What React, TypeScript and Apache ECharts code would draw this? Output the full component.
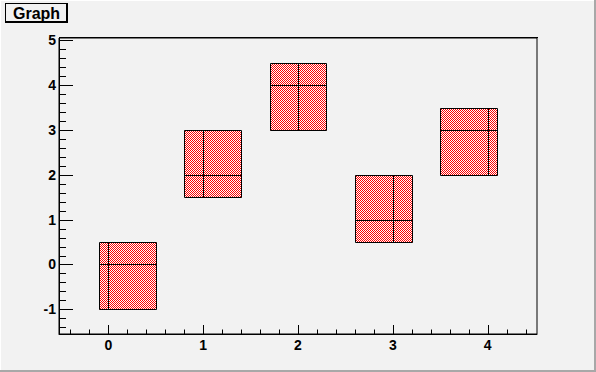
import React, { useEffect, useRef } from "react";
import * as echarts from "echarts";

// Graph points (TGraphAsymmErrors style)
const pointX = [0, 1, 2, 3, 4];
const pointY = [0, 2, 4, 1, 3];
const errXLow = [0.1, 0.2, 0.3, 0.4, 0.5];
const errXHigh = [0.5, 0.4, 0.3, 0.2, 0.1];
const errYLow = [1, 0.5, 1, 0.5, 1];
const errYHigh = [0.5, 1, 0.5, 1, 0.5];

// Axis ranges and ticks
const xRange = [-0.52, 4.52];
const yRange = [-1.55, 5.05];
const xMajorTicks = [0, 1, 2, 3, 4];
const yMajorTicks = [-1, 0, 1, 2, 3, 4, 5];
const minorStep = 0.2;

const titleText = "Graph";

function minorTicks(range: number[], majors: number[]): number[] {
  const out: number[] = [];
  const start = Math.ceil(range[0] / minorStep - 1e-9);
  const end = Math.floor(range[1] / minorStep + 1e-9);
  for (let k = start; k <= end; k++) {
    const v = Math.round(k * minorStep * 1000) / 1000;
    if (!majors.some((m) => Math.abs(m - v) < 1e-6)) out.push(v);
  }
  return out;
}

const FONT = "Liberation Sans, Arial, Helvetica, sans-serif";
const BG = "#f2f2f2";

export default function App() {
  const ref = useRef<HTMLDivElement>(null);
  useEffect(() => {
    if (!ref.current) return;
    const chart = echarts.init(ref.current, undefined, { renderer: "svg" });

    const cv = document.createElement("canvas");
    cv.width = 2;
    cv.height = 2;
    const ctx = cv.getContext("2d")!;
    ctx.fillStyle = "#ffffff";
    ctx.fillRect(0, 0, 2, 2);
    ctx.fillStyle = "#ff0000";
    ctx.fillRect(0, 0, 1, 1);
    ctx.fillRect(1, 1, 1, 1);
    const pattern: any = { image: cv, repeat: "repeat", imageWidth: 2, imageHeight: 2 };

    const data = pointX.map((x, i) => [x, pointY[i], errXLow[i], errXHigh[i], errYLow[i], errYHigh[i]]);

    const px = (v: number) => Math.round(v) + 0.5;

    const xMinor = minorTicks(xRange, xMajorTicks);
    const yMinor = minorTicks(yRange, yMajorTicks);

    // tick items: [xValue, yValue, length, kind(0 = x axis, 1 = y axis)]
    const tickData: number[][] = [
      ...xMajorTicks.map((v) => [v, yRange[0], 9, 0]),
      ...xMinor.map((v) => [v, yRange[0], 4.5, 0]),
      ...yMajorTicks.map((v) => [xRange[0], v, 14, 1]),
      ...yMinor.map((v) => [xRange[0], v, 7, 1]),
    ];

    chart.setOption({
      animation: false,
      backgroundColor: BG,
      grid: {
        left: 59,
        right: 59,
        top: 38,
        bottom: 38,
        show: true,
        borderColor: "#000",
        borderWidth: 1,
        backgroundColor: "transparent",
      },
      xAxis: {
        type: "value",
        min: xRange[0],
        max: xRange[1],
        position: "bottom",
        splitLine: { show: false },
        axisLine: { show: true, onZero: false, lineStyle: { color: "#000", width: 1 } },
        axisTick: { show: false },
        axisLabel: {
          show: true,
          customValues: xMajorTicks,
          margin: 4,
          color: "#000",
          fontFamily: FONT,
          fontWeight: "bold",
          fontSize: 14,
        },
      },
      yAxis: {
        type: "value",
        min: yRange[0],
        max: yRange[1],
        position: "left",
        splitLine: { show: false },
        axisLine: { show: true, onZero: false, lineStyle: { color: "#000", width: 1 } },
        axisTick: { show: false },
        axisLabel: {
          show: true,
          customValues: yMajorTicks,
          margin: 3,
          color: "#000",
          fontFamily: FONT,
          fontWeight: "bold",
          fontSize: 14,
        },
      },
      series: [
        {
          type: "custom",
          data: tickData,
          clip: false,
          silent: true,
          renderItem: (params: any, api: any) => {
            const p = api.coord([api.value(0), api.value(1)]);
            const len = api.value(2);
            const kind = api.value(3);
            if (kind === 0) {
              const x = px(p[0]);
              const y = Math.round(p[1]);
              return {
                type: "line",
                shape: { x1: x, y1: y, x2: x, y2: y - len },
                style: { stroke: "#000", lineWidth: 1 },
              };
            }
            const x = Math.round(p[0]);
            const y = px(p[1]);
            return {
              type: "line",
              shape: { x1: x, y1: y, x2: x + len, y2: y },
              style: { stroke: "#000", lineWidth: 1 },
            };
          },
        },
        {
          type: "custom",
          data,
          clip: false,
          renderItem: (params: any, api: any) => {
            const x = api.value(0);
            const y = api.value(1);
            const exl = api.value(2);
            const exh = api.value(3);
            const eyl = api.value(4);
            const eyh = api.value(5);
            const tl = api.coord([x - exl, y + eyh]);
            const br = api.coord([x + exh, y - eyl]);
            const c = api.coord([x, y]);
            const x0 = px(tl[0]);
            const y0 = px(tl[1]);
            const x1 = px(br[0]);
            const y1 = px(br[1]);
            const cx = px(c[0]);
            const cy = px(c[1]);
            return {
              type: "group",
              children: [
                {
                  type: "rect",
                  shape: { x: x0, y: y0, width: x1 - x0, height: y1 - y0 },
                  style: { fill: pattern, stroke: "#000", lineWidth: 1 },
                },
                {
                  type: "line",
                  shape: { x1: cx, y1: y0, x2: cx, y2: y1 },
                  style: { stroke: "#000", lineWidth: 1 },
                },
                {
                  type: "line",
                  shape: { x1: x0, y1: cy, x2: x1, y2: cy },
                  style: { stroke: "#000", lineWidth: 1 },
                },
              ],
            };
          },
        },
      ],
      graphic: [
        { type: "rect", shape: { x: 59, y: 37, width: 479, height: 1 }, style: { fill: "#000" } },
        { type: "rect", shape: { x: 0, y: 0, width: 596, height: 1 }, style: { fill: "#ffffff" } },
        { type: "rect", shape: { x: 0, y: 0, width: 1, height: 372 }, style: { fill: "#ffffff" } },
        { type: "rect", shape: { x: 594, y: 0, width: 2, height: 372 }, style: { fill: "#a8a8a8" } },
        { type: "rect", shape: { x: 0, y: 370, width: 596, height: 2 }, style: { fill: "#a8a8a8" } },
        { type: "rect", shape: { x: 5, y: 3, width: 63, height: 20 }, style: { fill: "#000" } },
        { type: "rect", shape: { x: 6, y: 4, width: 60, height: 17 }, style: { fill: BG } },
        {
          type: "text",
          x: 13,
          y: 13,
          style: {
            text: titleText,
            fill: "#000",
            font: `bold 16px ${FONT}`,
            verticalAlign: "middle",
            align: "left",
          },
        },
      ],
    });
    return () => chart.dispose();
  }, []);
  return (
    <div
      ref={ref}
      style={{ position: "fixed", left: 0, top: 0, width: 596, height: 372 }}
    />
  );
}
